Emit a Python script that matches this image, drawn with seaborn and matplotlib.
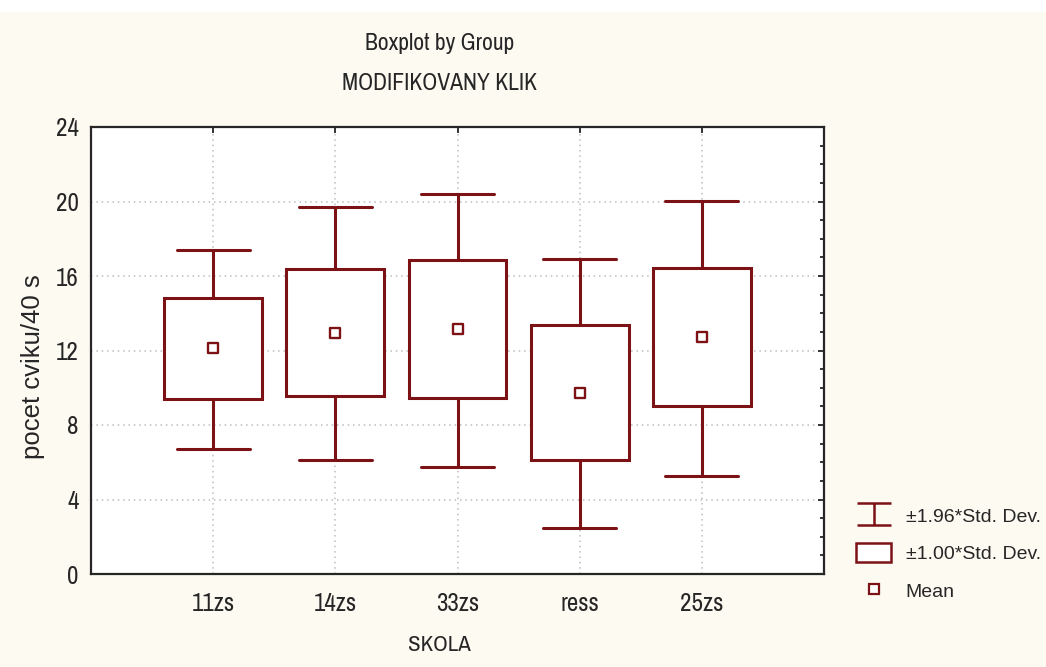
import matplotlib
matplotlib.use("Agg")
import matplotlib.pyplot as plt
import matplotlib.patches as mpatches
from matplotlib.lines import Line2D
from matplotlib.path import Path
from matplotlib.ticker import MultipleLocator
import pandas as pd
import seaborn as sns

# values
skola = ["11zs", "14zs", "33zs", "ress", "25zs"]
whisker_low = [6.70, 6.13, 5.76, 2.49, 5.28]   # mean - 1.96*SD
box_low = [9.42, 9.55, 9.44, 6.13, 9.00]       # mean - 1.00*SD
means = [12.14, 12.96, 13.14, 9.73, 12.71]
box_high = [14.83, 16.36, 16.84, 13.37, 16.41]  # mean + 1.00*SD
whisker_high = [17.42, 19.72, 20.41, 16.89, 20.04]  # mean + 1.96*SD
y_ticks = [0, 4, 8, 12, 16, 20, 24]
legend_labels = ["±1.96*Std. Dev.", "±1.00*Std. Dev.", "Mean"]

RED = "#7d1216"
INK = "#262626"
CREAM = "#fdfaf2"
NARROW = ["Archivo Narrow", "Liberation Sans", "DejaVu Sans"]
REGULAR = ["Liberation Sans", "DejaVu Sans"]

# five points per group -> quartiles = box edges, min/max = whiskers
rows = []
for i, s in enumerate(skola):
    for v in (whisker_low[i], box_low[i], means[i], box_high[i], whisker_high[i]):
        rows.append({"SKOLA": s, "value": v})
df = pd.DataFrame(rows)

sns.set_style("white")
plt.rcParams["font.family"] = NARROW

W, H = 1046, 667
fig = plt.figure(figsize=(W / 100, H / 100), dpi=100, facecolor=CREAM)
fig.patches.append(mpatches.Rectangle((0, 1 - 12 / H), 1, 12 / H, transform=fig.transFigure,
                                      facecolor="white", edgecolor="none", zorder=-1))
ax = fig.add_axes([91 / W, (H - 574) / H, (824 - 91) / W, (574 - 127) / H])
ax.set_facecolor("white")

sns.boxplot(
    data=df, x="SKOLA", y="value", order=skola, whis=(0, 100), width=0.8,
    color="white", linecolor=RED, linewidth=2.2, fill=True, showfliers=False,
    medianprops={"visible": False}, capwidths=0.6, saturation=1, ax=ax,
)
sns.scatterplot(x=skola, y=means, marker="s", s=50, color="white", edgecolor=RED,
                linewidth=1.7, zorder=5, ax=ax)

ax.set_xlim(-1, len(skola))
ax.set_ylim(0, 24)
ax.set_yticks(y_ticks)
ax.yaxis.set_minor_locator(MultipleLocator(1))
ax.set_xlabel("")
ax.set_ylabel("")

ax.set_axisbelow(True)
ax.grid(True, which="major", linestyle=(0, (1, 2.5)), color="#bdbdbd", linewidth=1.1)

for sp in ax.spines.values():
    sp.set_visible(True)
    sp.set_color(INK)
    sp.set_linewidth(1.6)

ax.tick_params(which="both", direction="in", top=True, right=True, color=INK, width=1.3,
               labelcolor=INK, labelsize=18)
ax.tick_params(which="major", length=4)
ax.tick_params(which="minor", length=3)
ax.tick_params(axis="x", pad=13)
ax.tick_params(axis="y", pad=9)

fig.text(440 / W, 1 - 44 / H, "Boxplot by Group", ha="center", va="center", fontsize=17, color=INK)
fig.text(440 / W, 1 - 84 / H, "MODIFIKOVANY KLIK", ha="center", va="center", fontsize=17, color=INK)
fig.text(439 / W, 1 - 645 / H, "SKOLA", ha="center", va="center", fontsize=16.5, color=INK)
fig.text(33 / W, 1 - 367 / H, "pocet cviku/40 s", ha="center", va="center", rotation=90,
         fontsize=18.5, color=INK, family=REGULAR)

cap_path = Path(
    [(-1, 0.62), (1, 0.62), (0, 0.62), (0, -0.62), (-1, -0.62), (1, -0.62)],
    [Path.MOVETO, Path.LINETO, Path.MOVETO, Path.LINETO, Path.MOVETO, Path.LINETO],
)
handles = [
    Line2D([], [], linestyle="none", marker=cap_path, markersize=25, markerfacecolor="none",
           markeredgecolor=RED, markeredgewidth=1.8),
    mpatches.Patch(facecolor="white", edgecolor=RED, linewidth=1.8),
    Line2D([], [], linestyle="none", marker="s", markersize=6.5, markerfacecolor="white",
           markeredgecolor=RED, markeredgewidth=1.6),
]
leg = fig.legend(handles, legend_labels, loc="upper left", bbox_to_anchor=(856 / W, 1 - 506 / H),
                 bbox_transform=fig.transFigure, frameon=False, numpoints=1,
                 prop={"family": REGULAR, "size": 14}, handlelength=1.8, handleheight=1.1,
                 handletextpad=0.75, labelspacing=0.9, borderpad=0, borderaxespad=0)
for t in leg.get_texts():
    t.set_color(INK)

fig.savefig("out.png", dpi=100, facecolor=CREAM)
